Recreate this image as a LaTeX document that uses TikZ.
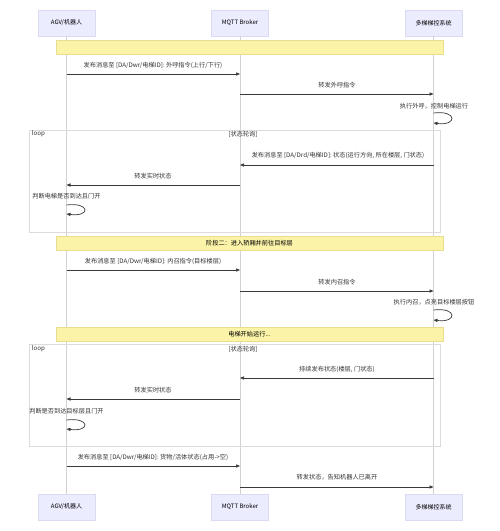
\documentclass[tikz,border=0pt]{standalone}
\usepackage{fontspec}
\setmainfont{Noto Sans CJK SC}
\usetikzlibrary{arrows.meta}
\definecolor{actorfill}{HTML}{ECECFF}
\definecolor{actorline}{HTML}{DADAF2}
\definecolor{notefill}{HTML}{FBF3A8}
\definecolor{noteline}{HTML}{E9DE8E}
\definecolor{lifegray}{HTML}{D2D2D2}
\definecolor{msggray}{HTML}{3A3A3A}

\begin{document}
\begin{tikzpicture}[x=1pt,y=1pt,yscale=-1,
    actor/.style={draw=actorline,fill=actorfill,minimum width=57pt,minimum height=26pt,inner sep=0pt,font=\fontsize{6}{7}\selectfont},
    note/.style={draw=noteline,fill=notefill,minimum width=387pt,minimum height=14pt,inner sep=0pt,font=\fontsize{6.2}{7}\selectfont},
    msg/.style={draw=msggray,line width=0.7pt,-{Triangle[length=4pt,width=3.2pt]}},
    lbl/.style={font=\fontsize{6.2}{7}\selectfont,text=black!80,inner sep=0.75pt},
    life/.style={draw=lifegray,line width=0.6pt},
    frame/.style={draw=black!14,line width=0.5pt}]
    \useasboundingbox[fill=white] (0,0) rectangle (500,531);

    %Participants top
    \node[actor] (agvT) at (66.5,23) {AGV/机器人};
    \node[actor] (mqttT) at (240,23) {MQTT Broker};
    \node[actor] (liftT) at (433.5,23) {多梯梯控系统};
    %Participants bottom
    \node[actor] (agvB) at (66.5,507) {AGV/机器人};
    \node[actor] (mqttB) at (240,507) {MQTT Broker};
    \node[actor] (liftB) at (433.5,507) {多梯梯控系统};

    %Lifelines
    \draw[life] (agvT) -- (agvB);
    \draw[life] (mqttT) -- (mqttB);
    \draw[life] (liftT) -- (liftB);

    %Loop frames
    \draw[frame] (29,130) rectangle (440,232);
    \node[lbl,anchor=west] (loopA) at (31,134) {loop};
    \node[lbl] (condA) at (243,134) {[状态轮询]};
    \draw[frame] (29,344) rectangle (440,446);
    \node[lbl,anchor=west] (loopB) at (31,349) {loop};
    \node[lbl] (condB) at (243,349) {[状态轮询]};

    %Notes
    \node[note] (noteA) at (249.5,47) {};
    \node[note] (noteB) at (249.5,243) {阶段二：进入轿厢并前往目标层};
    \node[note] (noteC) at (249.5,334) {电梯开始运行...};

    %Message anchors on the lifelines
    \coordinate (a1) at (66.5,74);   \coordinate (b1) at (240,74);
    \coordinate (b2) at (240,94);    \coordinate (c2) at (433.5,94);
    \coordinate (c3) at (433.5,165); \coordinate (b3) at (240,165);
    \coordinate (b4) at (240,185);   \coordinate (a4) at (66.5,185);
    \coordinate (a5) at (66.5,270);  \coordinate (b5) at (240,270);
    \coordinate (b6) at (240,291);   \coordinate (c6) at (433.5,291);
    \coordinate (c7) at (433.5,378); \coordinate (b7) at (240,378);
    \coordinate (b8) at (240,399);   \coordinate (a8) at (66.5,399);
    \coordinate (a9) at (66.5,466);  \coordinate (b9) at (240,466);
    \coordinate (b10) at (240,487);  \coordinate (c10) at (433.5,487);
    %Self message anchors
    \coordinate (s1a) at (433.5,113); \coordinate (s1b) at (433.5,123);
    \coordinate (s2a) at (66.5,205);  \coordinate (s2b) at (66.5,214);
    \coordinate (s3a) at (433.5,310); \coordinate (s3b) at (433.5,320);
    \coordinate (s4a) at (66.5,420);  \coordinate (s4b) at (66.5,429);

    %Straight Lines
    \draw[msg] (a1) -- (b1);
    \draw[msg] (b2) -- (c2);
    \draw[msg] (c3) -- (b3);
    \draw[msg] (b4) -- (a4);
    \draw[msg] (a5) -- (b5);
    \draw[msg] (b6) -- (c6);
    \draw[msg] (c7) -- (b7);
    \draw[msg] (b8) -- (a8);
    \draw[msg] (a9) -- (b9);
    \draw[msg] (b10) -- (c10);
    %Curve Lines
    \draw[msg] (s1a) .. controls +(24,-3) and +(24,3) .. (s1b);
    \draw[msg] (s2a) .. controls +(24,-3) and +(24,3) .. (s2b);
    \draw[msg] (s3a) .. controls +(24,-3) and +(24,3) .. (s3b);
    \draw[msg] (s4a) .. controls +(24,-3) and +(24,3) .. (s4b);

    % Text Node
    \node[lbl] (t1) at (153,65) {发布消息至 [DA/Dwr/电梯ID]: 外呼指令(上行/下行)};
    \node[lbl] (t2) at (337,85) {转发外呼指令};
    \node[lbl] (t3) at (434,106) {执行外呼，控制电梯运行};
    \node[lbl] (t4) at (338,155) {发布消息至 [DA/Drd/电梯ID]: 状态(运行方向, 所在楼层, 门状态)};
    \node[lbl] (t5) at (153,176) {转发实时状态};
    \node[lbl] (t6) at (66.5,196) {判断电梯是否到达且门开};
    \node[lbl] (t7) at (153,261) {发布消息至 [DA/Dwr/电梯ID]: 内召指令(目标楼层)};
    \node[lbl] (t8) at (337,282) {转发内召指令};
    \node[lbl] (t9) at (434,302) {执行内召，点亮目标楼层按钮};
    \node[lbl] (t10) at (337,369) {持续发布状态(楼层, 门状态)};
    \node[lbl] (t11) at (153,390) {转发实时状态};
    \node[lbl] (t12) at (66.5,411) {判断是否到达目标层且门开};
    \node[lbl] (t13) at (153,457) {发布消息至 [DA/Dwr/电梯ID]: 货物/活体状态(占用->空)};
    \node[lbl] (t14) at (337,477) {转发状态，告知机器人已离开};
\end{tikzpicture}
\end{document}
